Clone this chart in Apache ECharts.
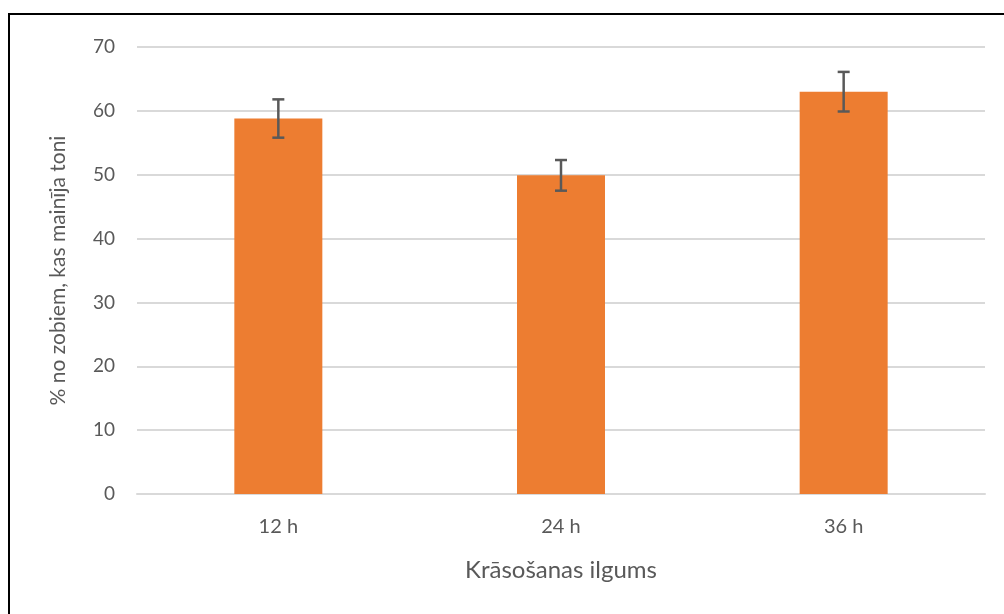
<!DOCTYPE html>
<html>
<head>
<meta charset="utf-8">
<script src="https://cdn.jsdelivr.net/npm/echarts@6/dist/echarts.min.js"></script>
<style>
  html, body { margin: 0; padding: 0; background: #fff; }
  #wrap { position: relative; width: 1004px; height: 614px; overflow: hidden; }
  #frame { position: absolute; left: 8px; top: 13px; width: 1100px; height: 700px; border: 2px solid #000; box-sizing: border-box; }
  #chart { position: absolute; left: 0; top: 0; width: 1004px; height: 614px; }
</style>
</head>
<body>
<div id="wrap">
  <div id="frame"></div>
  <div id="chart"></div>
</div>
<script>
  // dati
  const categories = ['12 h', '24 h', '36 h']
  const values = [58.8, 49.9, 63.0]
  const errors = [3.0, 2.4, 3.1]

  const chart = echarts.init(document.getElementById('chart'))
  const font = 'Lato, "Open Sans", sans-serif'

  chart.setOption({
    animation: false,
    grid: { left: 137, right: 19, top: 47, bottom: 120 },
    xAxis: {
      type: 'category',
      data: categories,
      name: 'Krāsošanas ilgums',
      nameLocation: 'middle',
      nameGap: 64,
      nameTextStyle: { color: '#595959', fontSize: 24, fontFamily: font },
      axisLine: { lineStyle: { color: '#d9d9d9', width: 2 } },
      axisTick: { show: false },
      axisLabel: { color: '#595959', fontSize: 20, fontFamily: font, margin: 23 }
    },
    yAxis: {
      type: 'value',
      min: 0,
      max: 70,
      interval: 10,
      name: '% no zobiem, kas mainīja toni',
      nameLocation: 'middle',
      nameGap: 68,
      nameRotate: 90,
      nameTextStyle: { color: '#595959', fontSize: 21, fontFamily: font },
      axisLine: { show: false },
      axisTick: { show: false },
      splitLine: { lineStyle: { color: '#d9d9d9', width: 2 } },
      axisLabel: { color: '#595959', fontSize: 19, fontFamily: font, margin: 22 }
    },
    series: [
      {
        type: 'bar',
        data: values,
        barWidth: 88,
        itemStyle: { color: '#ED7D31' }
      },
      {
        type: 'custom',
        data: values.map((v, i) => [i, v - errors[i], v + errors[i]]),
        renderItem: (params, api) => {
          const lo = api.coord([api.value(0), api.value(1)])
          const hi = api.coord([api.value(0), api.value(2)])
          const half = 6
          const style = { stroke: '#595959', lineWidth: 2.5 }
          return {
            type: 'group',
            children: [
              { type: 'line', shape: { x1: hi[0], y1: hi[1], x2: lo[0], y2: lo[1] }, style },
              { type: 'line', shape: { x1: hi[0] - half, y1: hi[1], x2: hi[0] + half, y2: hi[1] }, style },
              { type: 'line', shape: { x1: lo[0] - half, y1: lo[1], x2: lo[0] + half, y2: lo[1] }, style }
            ]
          }
        },
        z: 10
      }
    ]
  })
</script>
</body>
</html>
